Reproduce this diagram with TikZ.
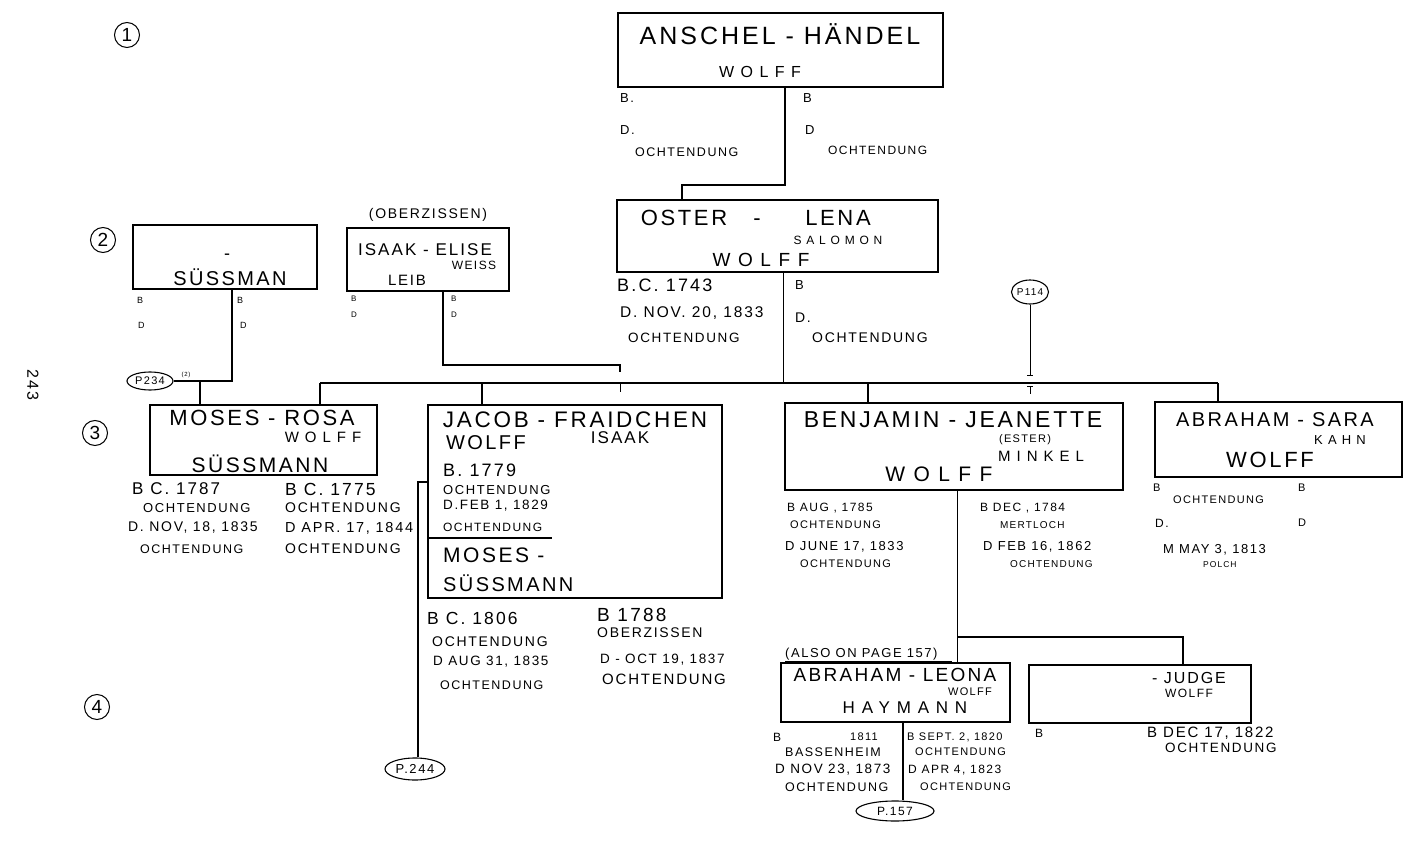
\documentclass[tikz,border=0pt]{standalone}
\usepackage{fontspec}
\usetikzlibrary{shapes.geometric}
\newfontfamily\hand{Liberation Sans}[LetterSpace=12]
\newfontfamily\handw{Liberation Sans}[LetterSpace=40]
\newcommand\hfs[1]{\fontsize{#1}{#1}\selectfont}
\tikzset{
  box/.style={draw, line width=1.3pt, inner sep=0pt, outer sep=0pt},
  t/.style={inner sep=0pt, anchor=west, font=\hand},
  ct/.style={inner sep=0pt, font=\hand},
  bt/.style={inner sep=0pt, anchor=base, font=\hand},
  oval/.style={draw, ellipse, line width=1.1pt, inner sep=0pt, font=\hand},
  gen/.style={draw, circle, line width=1pt, inner sep=0pt, minimum size=25pt, font=\hand\hfs{19}},
  con/.style={line width=1.2pt},
  thin/.style={line width=0.8pt}
}
\begin{document}
\begin{tikzpicture}[x=1pt,y=-1pt]
\useasboundingbox (0,0) rectangle (1422,850);
\fill[white] (0,0) rectangle (1422,850);

% generation numbers
\node[gen] (g1) at (127,35) {1};
\node[gen] (g2) at (103,240) {2};
\node[gen] (g3) at (95,433) {3};
\node[gen] (g4) at (97,707) {4};
\node[ct, rotate=-90] (pg) at (33,385) {\hfs{16}243};

% ---------- generation 1 ----------
\node[box, minimum width=325pt, minimum height=74pt] (anschel) at (780.5,50) {};
\node[bt] (an1) at (780,45) {\hfs{25}ANSCHEL - HÄNDEL};
\node[ct, font=\handw] (an2) at (760,72) {\hfs{16}WOLFF};
\node[t] (an3) at (620,98) {\hfs{13}B.};
\node[t] (an4) at (620,130) {\hfs{13}D.};
\node[t] (an5) at (635,152) {\hfs{12.5}OCHTENDUNG};
\node[t] (an6) at (803,98) {\hfs{13}B};
\node[t] (an7) at (805,130) {\hfs{13}D};
\node[t] (an8) at (828,150) {\hfs{12}OCHTENDUNG};

% ---------- generation 2 ----------
\node[box, minimum width=321pt, minimum height=72pt] (oster) at (777.5,236) {};
\node[ct] (os1) at (684,218) {\hfs{22}OSTER};
\node[ct] (os2) at (757,218) {\hfs{22}\vphantom{O}-};
\node[ct] (os3) at (838,218) {\hfs{22}LENA};
\node[ct, font=\handw] (os4) at (838,240) {\hfs{12}SALOMON};
\node[ct, font=\handw] (os5) at (761,260) {\hfs{19}WOLFF};
\node[t] (os6) at (617,285) {\hfs{18}B.C. 1743};
\node[t] (os7) at (620,313) {\hfs{15.5}D. NOV. 20, 1833};
\node[t] (os8) at (628,338) {\hfs{13.5}OCHTENDUNG};
\node[t] (os9) at (795,285) {\hfs{13}B};
\node[t] (os10) at (795,318) {\hfs{14}D.};
\node[t] (os11) at (812,338) {\hfs{14}OCHTENDUNG};

\node[box, minimum width=184pt, minimum height=64pt] (suss) at (225,257) {};
\node[ct] (su1) at (227,257) {\hfs{18}-};
\node[bt] (su2) at (230,286) {\hfs{20}SÜSSMAN};
\node[t] (su3) at (137,300) {\hfs{9}B};
\node[t] (su4) at (138,325) {\hfs{9}D};
\node[t] (su5) at (237,300) {\hfs{9}B};
\node[t] (su6) at (240,325) {\hfs{9}D};

\node[box, minimum width=162pt, minimum height=63pt] (isaak) at (428,259.5) {};
\node[ct] (is0) at (428,215) {\hfs{14}(OBERZISSEN)};
\node[ct] (is1) at (425,250) {\hfs{17}ISAAK - ELISE};
\node[ct] (is2) at (474,265) {\hfs{12}WEISS};
\node[ct] (is3) at (407,280) {\hfs{15}LEIB};
\node[t] (is4) at (351,299) {\hfs{8}B};
\node[t] (is5) at (351,315) {\hfs{8}D};
\node[t] (is6) at (451,299) {\hfs{8}B};
\node[t] (is7) at (451,315) {\hfs{8}D};

% ---------- generation 3 ----------
\node[box, minimum width=227pt, minimum height=70pt] (moses) at (263.5,440) {};
\node[ct] (mo1) at (262,418) {\hfs{22}MOSES - ROSA};
\node[ct, font=\handw] (mo2) at (323,437) {\hfs{15}WOLFF};
\node[bt] (mo3) at (260,472) {\hfs{21}SÜSSMANN};
\node[t] (mo4) at (132,489) {\hfs{17}B C. 1787};
\node[t] (mo5) at (143,508) {\hfs{13}OCHTENDUNG};
\node[t] (mo6) at (128,528) {\hfs{14}D. NOV, 18, 1835};
\node[t] (mo7) at (140,549) {\hfs{12.5}OCHTENDUNG};
\node[t] (mo8) at (285,489) {\hfs{17.5}B C. 1775};
\node[t] (mo9) at (285,508) {\hfs{14}OCHTENDUNG};
\node[t] (mo10) at (285,528) {\hfs{14.5}D APR. 17, 1844};
\node[t] (mo11) at (285,549) {\hfs{14}OCHTENDUNG};

\node[box, minimum width=294pt, minimum height=193pt] (jacob) at (575,501.5) {};
\node[ct] (ja1) at (575,420) {\hfs{22.5}JACOB - FRAIDCHEN};
\node[ct] (ja2) at (486,443) {\hfs{20}WOLFF};
\node[ct] (ja3) at (620,438) {\hfs{17}ISAAK};
\node[t] (ja4) at (443,470) {\hfs{18}B. 1779};
\node[t] (ja5) at (443,490) {\hfs{13}OCHTENDUNG};
\node[t] (ja6) at (443,506) {\hfs{13.5}D.FEB 1, 1829};
\node[t] (ja7) at (443,527) {\hfs{12}OCHTENDUNG};
\coordinate (ul1) at (428,538);
\coordinate (ul2) at (552,538);
\draw[con] (ul1) -- (ul2);
\node[t] (ja8) at (443,555) {\hfs{21}MOSES -};
\node[t, anchor=base west] (ja9) at (443,591) {\hfs{20}SÜSSMANN};
\node[t] (ja10) at (427,618) {\hfs{17.5}B C. 1806};
\node[t] (ja11) at (432,642) {\hfs{14}OCHTENDUNG};
\node[t] (ja12) at (433,662) {\hfs{13.5}D AUG 31, 1835};
\node[t] (ja13) at (440,685) {\hfs{12.5}OCHTENDUNG};
\node[t] (ja14) at (597,615) {\hfs{19}B 1788};
\node[t] (ja15) at (597,633) {\hfs{14}OBERZISSEN};
\node[t] (ja16) at (600,660) {\hfs{13.5}D - OCT 19, 1837};
\node[t] (ja17) at (602,679) {\hfs{15}OCHTENDUNG};

\node[box, minimum width=338pt, minimum height=87pt] (benj) at (954,446.5) {};
\node[ct] (be1) at (953,420) {\hfs{23}BENJAMIN - JEANETTE};
\node[ct] (be2) at (1025,440) {\hfs{11}(ESTER)};
\node[ct, font=\handw] (be3) at (1041,456) {\hfs{15}MINKEL};
\node[ct, font=\handw] (be4) at (939,474) {\hfs{21}WOLFF};
\node[t] (be5) at (787,508) {\hfs{12}B AUG , 1785};
\node[t] (be6) at (790,525) {\hfs{11}OCHTENDUNG};
\node[t] (be7) at (785,547) {\hfs{13}D JUNE 17, 1833};
\node[t] (be8) at (800,564) {\hfs{11}OCHTENDUNG};
\node[t] (be9) at (980,508) {\hfs{12}B DEC , 1784};
\node[t] (be10) at (1000,525) {\hfs{10}MERTLOCH};
\node[t] (be11) at (983,547) {\hfs{13}D FEB 16, 1862};
\node[t] (be12) at (1010,564) {\hfs{10}OCHTENDUNG};

\node[box, minimum width=247pt, minimum height=75pt] (asara) at (1278.5,439.5) {};
\node[ct] (as1) at (1275,420) {\hfs{20}ABRAHAM - SARA};
\node[ct, font=\handw] (as2) at (1340,440) {\hfs{13}KAHN};
\node[ct] (as3) at (1270,460) {\hfs{22}WOLFF};
\node[t] (as4) at (1153,488) {\hfs{11}B};
\node[t] (as5) at (1173,500) {\hfs{11}OCHTENDUNG};
\node[t] (as6) at (1155,523) {\hfs{12}D.};
\node[t] (as7) at (1163,550) {\hfs{13}M MAY 3, 1813};
\node[t] (as8) at (1203,565) {\hfs{8.5}POLCH};
\node[t] (as9) at (1298,488) {\hfs{11}B};
\node[t] (as10) at (1298,523) {\hfs{11}D};

% ---------- generation 4 ----------
\node[t] (al0) at (785,654) {\hfs{13}(ALSO ON PAGE 157)};
\coordinate (ul3) at (785,661);
\coordinate (ul4) at (952,661);
\draw[thin] (ul3) -- (ul4);
\node[box, minimum width=229pt, minimum height=59pt] (aleona) at (895.5,692.5) {};
\node[ct] (al1) at (895,675) {\hfs{19}ABRAHAM - LEONA};
\node[ct] (al2) at (970,692) {\hfs{11}WOLFF};
\node[ct, font=\handw] (al3) at (905,708) {\hfs{17}HAYMANN};
\node[t] (al4) at (773,737) {\hfs{12}B};
\node[t] (al5) at (850,737) {\hfs{11}1811};
\node[t] (al6) at (785,752) {\hfs{12.5}BASSENHEIM};
\node[t] (al7) at (775,770) {\hfs{13.5}D NOV 23, 1873};
\node[t] (al8) at (785,787) {\hfs{12.5}OCHTENDUNG};
\node[t] (al9) at (907,737) {\hfs{11}B SEPT. 2, 1820};
\node[t] (al10) at (915,752) {\hfs{11}OCHTENDUNG};
\node[t] (al11) at (908,770) {\hfs{12}D APR 4, 1823};
\node[t] (al12) at (920,787) {\hfs{11}OCHTENDUNG};

\node[box, minimum width=222pt, minimum height=58pt] (judge) at (1140,694) {};
\node[ct] (ju1) at (1189,678) {\hfs{16}- JUDGE};
\node[ct] (ju2) at (1189,693) {\hfs{12}WOLFF};
\node[t] (ju3) at (1035,733) {\hfs{12}B};
\node[t] (ju4) at (1147,733) {\hfs{15}B DEC 17, 1822};
\node[t] (ju5) at (1165,748) {\hfs{13.5}OCHTENDUNG};

% ---------- page references ----------
\node[oval, minimum width=46pt, minimum height=18pt] (p234) at (150,381) {\hfs{11}P234};
\node[ct] (p234n) at (186,375) {\hfs{6}(2)};
\node[oval, minimum width=34pt, minimum height=24pt] (p114) at (1030,292) {\hfs{10}P114};
\node[oval, minimum width=60pt, minimum height=22pt] (p244) at (415,769) {\hfs{13}P.244};
\node[oval, minimum width=78pt, minimum height=20pt] (p157) at (895,811) {\hfs{12}P.157};

% ---------- connectors ----------
\coordinate (a1) at (785,185);
\coordinate (a2) at (682,185);
\draw[con] (anschel.south -| a1) -- (a1) -- (a2) -- (oster.north -| a2);

\coordinate (barL) at (320,383);
\coordinate (barR) at (1218,383);
\coordinate (ob) at (783,383);
\coordinate (bj) at (482,383);
\coordinate (bb) at (868,383);
\coordinate (bs) at (620,383);
\coordinate (bs2) at (620,392);
\coordinate (bt) at (1030,386);
\coordinate (bt2) at (1030,394);
\draw[thin] (oster.south -| ob) -- (ob);
\draw[con] (barL) -- (barR);
\draw[con] (barL) -- (moses.north -| barL);
\draw[con] (bj) -- (jacob.north -| bj);
\draw[con] (bb) -- (benj.north -| bb);
\draw[con] (barR) -- (asara.north -| barR);
\draw[thin] (bs) -- (bs2);
\draw[thin] (bt) -- (bt2);
\draw[thin] ([xshift=-3pt]bt) -- ([xshift=3pt]bt);

\coordinate (i1) at (443,365);
\coordinate (i2) at (620,365);
\coordinate (i3) at (620,372);
\draw[con] (isaak.south -| i1) -- (i1) -- (i2) -- (i3);

\coordinate (s1) at (232,381);
\coordinate (s2) at (200,381);
\draw[con] (suss.south -| s1) -- (s1) -- (p234.east);
\draw[con] (s2) -- (moses.north -| s2);

\coordinate (pt) at (1030,375);
\draw[thin] (p114.south) -- (pt);
\draw[thin] ([xshift=-3pt]pt) -- ([xshift=3pt]pt);

\coordinate (jb) at (418,482);
\draw[con] (jacob.west |- jb) -- (jb) -- (p244.north -| jb);

\coordinate (c1) at (957,637);
\coordinate (c2) at (1183,637);
\draw[thin] (benj.south -| c1) -- (aleona.north -| c1);
\draw[con] (c1) -- (c2) -- (judge.north -| c2);

\coordinate (lv) at (903,722);
\draw[con] (aleona.south -| lv) -- (p157.north -| lv);
\end{tikzpicture}
\end{document}
